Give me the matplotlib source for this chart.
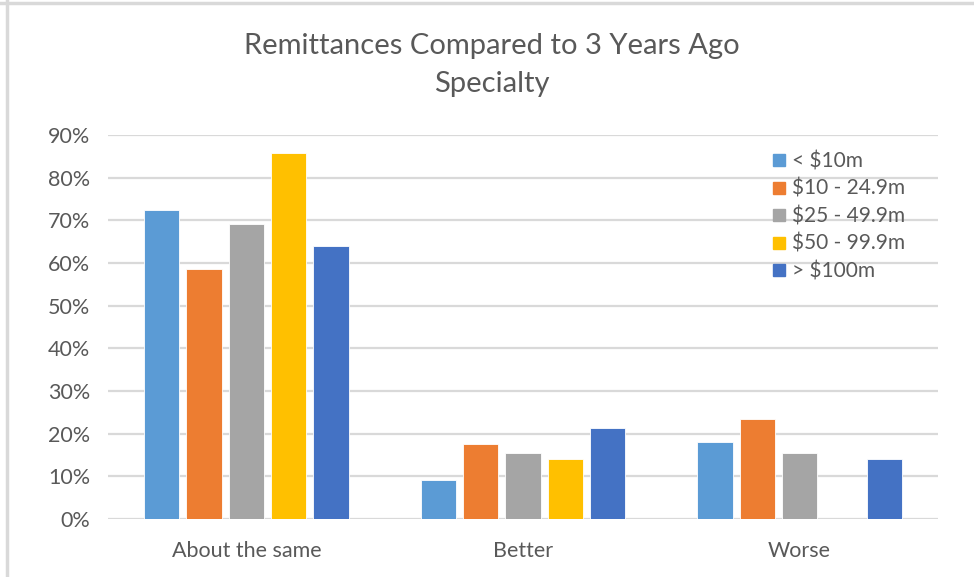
import numpy as np
import matplotlib.pyplot as plt
from matplotlib.lines import Line2D

categories = ['About the same', 'Better', 'Worse']
series = ['< $10m', '$10 - 24.9m', '$25 - 49.9m', '$50 - 99.9m', '> $100m']
values = [
    [0.724, 0.091, 0.180],   # < $10m
    [0.587, 0.175, 0.234],   # $10 - 24.9m
    [0.691, 0.154, 0.154],   # $25 - 49.9m
    [0.857, 0.141, 0.0],     # $50 - 99.9m
    [0.641, 0.213, 0.141],   # > $100m
]
colors = ['#5B9BD5', '#ED7D31', '#A5A5A5', '#FFC000', '#4472C4']
yticks = np.arange(0, 1.0, 0.1)

text_color = '#595959'
grid_color = '#D9D9D9'
font = 'Lato'

fig = plt.figure(figsize=(9.74, 5.77), dpi=100)
ax = fig.add_axes([108 / 974, 1 - 519 / 577, 830 / 974, 384 / 577])

x = np.arange(len(categories))
pitch = 0.153
width = 0.127
for i, (name, vals) in enumerate(zip(series, values)):
    offs = (i - 2) * pitch
    ax.bar(x + offs, vals, width, color=colors[i], edgecolor='white',
           linewidth=0.6, label=name, zorder=3)

ax.set_xlim(-0.5, 2.5)
ax.set_ylim(0, 0.9)
ax.set_yticks(yticks)
ax.set_yticklabels([f'{int(round(t * 100))}%' for t in yticks],
                   fontsize=15.5, color=text_color, family=font)
ax.set_xticks(x)
ax.set_xticklabels(categories, fontsize=15.5, color=text_color, family=font)
ax.tick_params(axis='both', length=0)
ax.tick_params(axis='y', pad=13)
ax.tick_params(axis='x', pad=16)
for s in ax.spines.values():
    s.set_visible(False)
ax.yaxis.grid(True, color=grid_color, linewidth=1.6, zorder=0)
ax.set_axisbelow(True)

fig.text(0.505, 1 - 46 / 577, 'Remittances Compared to 3 Years Ago', ha='center',
         va='center', fontsize=21, color=text_color, family=font)
fig.text(0.505, 1 - 84 / 577, 'Specialty', ha='center', va='center',
         fontsize=21, color=text_color, family=font)

handles = [Line2D([], [], marker='s', linestyle='none', markersize=8,
                  markerfacecolor=c, markeredgecolor=c) for c in colors]
leg = ax.legend(handles, series, loc='upper left',
                bbox_to_anchor=(762 / 974, 1 - 141 / 577),
                bbox_transform=fig.transFigure, frameon=False,
                handlelength=0.6, handletextpad=0.35, labelspacing=0.36,
                borderpad=0, prop={'family': font, 'size': 15})
for t in leg.get_texts():
    t.set_color(text_color)

# screenshot frame
fig.add_artist(Line2D([0, 1], [1 - 3 / 577] * 2, color='#D9D9D9', linewidth=2.5,
                      transform=fig.transFigure))
fig.add_artist(Line2D([7 / 974] * 2, [0, 1], color='#D9D9D9', linewidth=2.5,
                      transform=fig.transFigure))

fig.savefig('out.png', dpi=100)
